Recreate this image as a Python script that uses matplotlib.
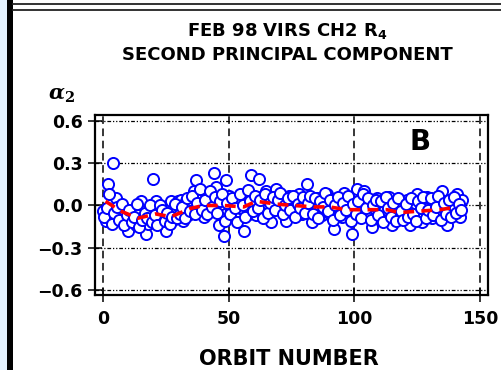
import matplotlib
matplotlib.use("Agg")
import matplotlib.pyplot as plt
from matplotlib.patches import Rectangle
from matplotlib.lines import Line2D
import numpy as np

# Second principal component, first pass over the orbits
orbit_a = np.arange(0, 144)
alpha_a = [
    -0.04, -0.11, 0.15, -0.08, 0.30, 0.05, -0.02, -0.09, -0.06, -0.12,
    -0.18, -0.05, -0.10, -0.14, -0.07, 0.03, -0.11, -0.20, -0.13, -0.03,
    0.19, 0.03, -0.08, -0.12, -0.06, -0.18, -0.09, 0.03, -0.10, -0.04,
    0.03, 0.04, -0.11, 0.03, -0.07, -0.02, 0.10, 0.18, -0.05, 0.02,
    -0.08, 0.05, -0.03, 0.07, 0.23, 0.13, -0.14, 0.01, -0.22, 0.18,
    0.07, -0.04, 0.02, -0.09, 0.04, -0.02, -0.18, 0.05, -0.06, 0.22,
    0.02, -0.07, 0.19, 0.06, -0.03, 0.10, 0.04, -0.12, 0.01, 0.12,
    -0.02, 0.06, 0.03, -0.11, 0.07, -0.04, 0.02, 0.05, 0.08, -0.06,
    0.03, 0.15, -0.02, -0.12, -0.03, 0.05, 0.00, -0.07, 0.04, 0.08,
    -0.05, 0.02, -0.17, 0.05, -0.02, -0.08, 0.09, 0.03, -0.04, -0.20,
    0.06, 0.12, -0.03, 0.04, 0.10, -0.06, 0.01, -0.15, -0.02, 0.05,
    -0.08, 0.02, -0.04, -0.10, 0.06, -0.14, 0.03, -0.05, -0.09, 0.01,
    -0.06, 0.04, -0.14, -0.03, 0.02, 0.08, -0.07, -0.12, 0.00, 0.06,
    -0.04, -0.09, 0.03, -0.06, 0.01, 0.10, -0.03, -0.14, -0.05, 0.02,
    -0.02, 0.08, -0.08, 0.04,
]

# second pass, offset half an orbit
orbit_b = np.arange(0, 143) + 0.5
alpha_b = [
    -0.08, -0.02, 0.08, -0.13, -0.05, -0.01, -0.10, 0.01, -0.14, -0.07,
    -0.03, -0.12, -0.08, 0.01, -0.15, -0.10, -0.05, -0.09, 0.00, -0.12,
    -0.07, -0.14, 0.00, -0.03, -0.11, -0.05, -0.13, -0.08, 0.01, -0.09,
    -0.06, -0.01, -0.09, 0.05, -0.04, 0.07, -0.06, 0.02, 0.12, -0.03,
    0.04, -0.06, 0.10, -0.01, 0.06, -0.05, 0.03, 0.08, -0.11, 0.02,
    -0.06, 0.05, -0.02, -0.12, 0.08, 0.00, -0.08, 0.11, 0.03, -0.04,
    0.07, -0.02, 0.04, -0.09, 0.08, -0.05, 0.02, 0.06, -0.03, 0.04,
    0.09, -0.06, 0.00, 0.05, -0.03, 0.07, -0.08, 0.01, -0.02, 0.06,
    -0.05, 0.02, 0.07, -0.06, 0.05, -0.09, 0.03, -0.01, 0.09, -0.04,
    0.04, -0.10, 0.00, 0.06, -0.07, 0.02, -0.03, 0.07, -0.11, 0.01,
    -0.06, 0.03, -0.09, 0.08, -0.02, 0.05, -0.10, 0.00, 0.04, -0.07,
    0.03, -0.12, 0.06, -0.02, -0.08, 0.02, -0.11, 0.05, -0.04, -0.10,
    0.01, -0.08, 0.05, -0.06, -0.11, 0.03, -0.02, 0.06, -0.09, -0.03,
    0.05, -0.07, -0.01, 0.07, -0.10, 0.02, -0.06, 0.04, -0.08, 0.06,
    -0.05, 0.01, -0.03,
]

# Smoothed trend
trend_x = [1, 7, 14, 21, 27, 35, 40, 48, 56, 61, 69, 76, 84, 90, 97, 105,
           113, 118, 126, 134, 141]
trend_y = [0.03, -0.04, -0.09, -0.06, -0.08, -0.02, 0.0, 0.0, -0.01, 0.03,
           0.01, 0.0, -0.01, -0.01, -0.03, -0.03, -0.03, -0.05, -0.04, -0.03,
           -0.01]

x_ticks = [0, 50, 100, 150]
y_ticks = [-0.6, -0.3, 0.0, 0.3, 0.6]
y_labels = ["\u22120.6", "\u22120.3", "0.0", "0.3", "0.6"]

W, H = 502, 370
plt.rcParams["font.family"] = "DejaVu Sans"
plt.rcParams["font.weight"] = "bold"
fig = plt.figure(figsize=(W / 100, H / 100), dpi=100)
fig.patch.set_facecolor("white")

# Page decorations: left strip and rule, double rule on top
fig.add_artist(Rectangle((0, 0), 7 / W, 1, transform=fig.transFigure,
                         facecolor="#e2f1fd", edgecolor="none"))
fig.add_artist(Rectangle((7 / W, 0), 6 / W, 1, transform=fig.transFigure,
                         facecolor="black", edgecolor="none"))
for yy in (3.5, 9.5):
    fig.add_artist(Line2D([13 / W, 1], [1 - yy / H, 1 - yy / H],
                          transform=fig.transFigure, color="#222222", lw=1.3))

ax = fig.add_axes([95 / W, 1 - 295 / H, (488 - 95) / W, (295 - 115) / H])
ax.set_xlim(-3.2, 153.2)
ax.set_ylim(-0.636, 0.643)

for v in x_ticks:
    ax.axvline(v, color="black", lw=1.1, dashes=(5, 3), zorder=1)
for v in y_ticks:
    ax.axhline(v, color="black", lw=0.9, dashes=(3, 1.5, 1, 1.5, 1, 1.5), zorder=1)

for xs, ys in ((orbit_a, alpha_a), (orbit_b, alpha_b)):
    ax.plot(xs, ys, linestyle="none", marker="o", markersize=8,
            markerfacecolor="white", markeredgecolor="blue",
            markeredgewidth=1.4, zorder=2)
ax.plot(trend_x, trend_y, color="red", lw=2.6, dashes=(3, 2), zorder=3)

ax.set_xticks(x_ticks)
ax.set_yticks(y_ticks)
ax.set_yticklabels(y_labels)
ax.tick_params(direction="inout", length=10, width=1.1, labelsize=12.5)
ax.tick_params(axis="y", pad=4)
ax.tick_params(axis="x", pad=6)
for s in ax.spines.values():
    s.set_linewidth(1.6)

ax.text(126, 0.45, "B", fontsize=20, ha="center", va="center")

fig.text(287 / W, 1 - 31 / H, "FEB 98 VIRS CH2 R$_\\mathbf{4}$",
         fontsize=13, ha="center", va="center")
fig.text(287 / W, 1 - 55 / H, "SECOND PRINCIPAL COMPONENT",
         fontsize=13, ha="center", va="center")
fig.text(48 / W, 1 - 95 / H, "$\\alpha_2$", fontsize=15, ha="left",
         va="center", math_fontfamily="dejavuserif")
fig.text(289 / W, 1 - 359 / H, "ORBIT NUMBER", fontsize=15,
         ha="center", va="center")

fig.savefig("out.png", dpi=100)
